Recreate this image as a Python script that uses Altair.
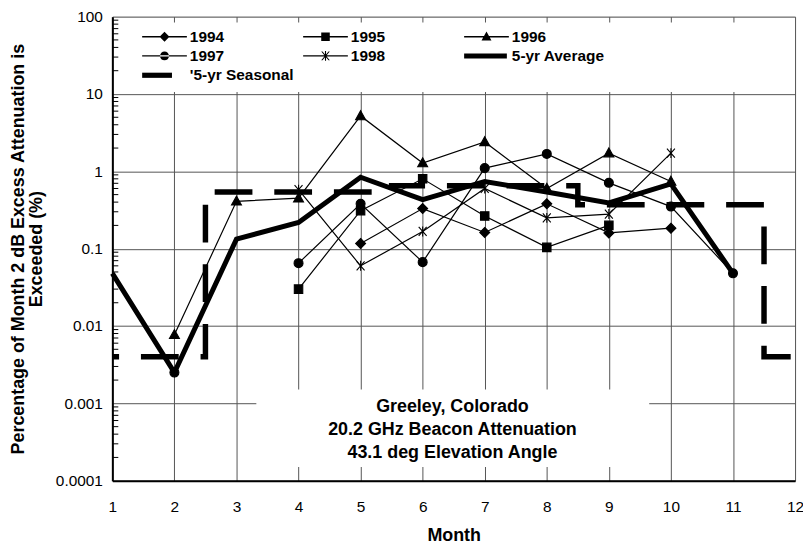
import altair as alt
import pandas as pd

# ---------------- data ----------------
months = [1, 2, 3, 4, 5, 6, 7, 8, 9, 10, 11, 12]
pct_1994 = [None, None, None, None, 0.117, 0.33, 0.162, 0.38, 0.16, 0.184, None, None]
pct_1995 = [None, None, None, 0.03, 0.31, 0.80, 0.265, 0.104, 0.20, None, None, None]
pct_1996 = [None, 0.0077, 0.41, 0.45, 5.2, 1.28, 2.4, 0.60, 1.72, 0.74, None, None]
pct_1997 = [None, 0.0025, None, 0.065, 0.38, 0.067, 1.1, 1.68, 0.71, 0.35, 0.048, None]
pct_1998 = [None, None, None, 0.58, 0.06, 0.167, 0.60, 0.25, 0.28, 1.72, None, None]
pct_avg = [0.048, 0.0025, 0.133, 0.218, 0.84, 0.43, 0.74, 0.54, 0.39, 0.69, 0.048, None]

# seasonal (step) values: winter, spring, summer, fall, winter
season_edges = [0.5, 2.5, 5.5, 8.5, 11.5, 12.5]
season_values = [0.004, 0.54, 0.65, 0.37, 0.004, 0.004]

year_names = ["1994", "1995", "1996", "1997", "1998"]
legend_names = ["1994", "1995", "1996", "1997", "1998", "5-yr Average", "'5-yr Seasonal"]
y_ticks = [0.0001, 0.001, 0.01, 0.1, 1, 10, 100]
annotation_lines = ["Greeley, Colorado", "20.2 GHz Beacon Attenuation", "43.1 deg Elevation Angle"]

# ---------------- tables ----------------
rows = []
for name, vals in zip(year_names, [pct_1994, pct_1995, pct_1996, pct_1997, pct_1998]):
    seg = 0
    prev = None
    for m, v in zip(months, vals):
        if v is None:
            if prev is not None:
                seg += 1
            prev = None
            continue
        rows.append({"series": name, "month": m, "value": v, "seg": f"{name}-{seg}"})
        prev = v
years_df = pd.DataFrame(rows)

avg_df = pd.DataFrame([{"month": m, "value": v} for m, v in zip(months, pct_avg) if v is not None])
season_df = pd.DataFrame({"month": season_edges, "value": season_values})

minor = []
for d in y_ticks[:-1]:
    for k in range(2, 10):
        minor.append({"v": d * k})
minor_df = pd.DataFrame(minor)

boxes_df = pd.DataFrame([
    {"x": 1.04, "x2": 11.96, "y": 10.6, "y2": 84},          # legend backing
    {"x": 3.32, "x2": 9.65, "y": 0.000151, "y2": 0.00151},  # annotation backing
])
note_df = pd.DataFrame([{"month": 6.48, "value": 0.00089}])
legend_df = pd.DataFrame({"series": legend_names})

# ---------------- marker / legend symbol shapes ----------------
xscale = alt.Scale(domain=[1, 12], nice=False, zero=False)
yscale = alt.Scale(type="log", domain=[0.0001, 100], nice=False)

marker_paths = [
    "M0,-1L1,0L0,1L-1,0Z",
    "M-0.85,-0.85H0.85V0.85H-0.85Z",
    "M0,-1.05L1,0.75L-1,0.75Z",
    "M-0.9,0A0.9,0.9 0 1,0 0.9,0A0.9,0.9 0 1,0 -0.9,0Z",
    "M-0.8,-0.9L0.8,0.9M-0.8,0.9L0.8,-0.9M0,-1V1",
]

LEG_SIZE = 256           # symbol area -> 8 px per path unit
S = 8.0


def P(px):
    return f"{px / S:.4g}"


def rect(x0, x1, y0, y1):
    return f"M{P(x0)},{P(y0)}H{P(x1)}V{P(y1)}H{P(x0)}Z"


CX = 14.5                # marker centre (px from symbol centre)
LINE = rect(-8, 37, -0.65, 0.65)
legend_paths = [
    LINE + f"M{P(CX)},{P(-5)}L{P(CX + 5)},0L{P(CX)},{P(5)}L{P(CX - 5)},0Z",
    LINE + rect(CX - 4.3, CX + 4.3, -4.3, 4.3),
    LINE + f"M{P(CX)},{P(-5.2)}L{P(CX + 5)},{P(3.8)}L{P(CX - 5)},{P(3.8)}Z",
    LINE + f"M{P(CX - 4.5)},0A{P(4.5)},{P(4.5)} 0 1,0 {P(CX + 4.5)},0"
           f"A{P(4.5)},{P(4.5)} 0 1,0 {P(CX - 4.5)},0Z",
    LINE + f"M{P(CX - 4.3)},{P(-4.5)}L{P(CX - 3)},{P(-4.5)}L{P(CX + 4.3)},{P(4.5)}L{P(CX + 3)},{P(4.5)}Z"
           f"M{P(CX + 3)},{P(-4.5)}L{P(CX + 4.3)},{P(-4.5)}L{P(CX - 3)},{P(4.5)}L{P(CX - 4.3)},{P(4.5)}Z"
           + rect(CX - 0.55, CX + 0.55, -5, 5),
    rect(-8, 35, -2.5, 2.5),
    rect(-8, 22, -2.6, 2.6),
]

FONT = "Liberation Sans"

xaxis = alt.Axis(values=months, format="d", grid=True, ticks=False, labelPadding=19,
                 labelFontSize=15.5, labelFont=FONT, labelColor="black", title="Month",
                 titleFont=FONT, titleFontSize=18, titleFontWeight="bold", titleColor="black",
                 titlePadding=12, domainColor="black", domainWidth=2, gridColor="#555555",
                 gridWidth=1, labelFlush=False)
yaxis = alt.Axis(values=y_ticks, grid=True, ticks=False, format="~f", labelPadding=10,
                 labelFontSize=15.5, labelFont=FONT, labelColor="black",
                 title=["Percentage of Month 2 dB Excess Attenuation is", "Exceeded (%)"],
                 titleFont=FONT, titleFontSize=18, titleFontWeight="bold", titleColor="black",
                 titlePadding=10, titleLineHeight=18, domainColor="black", domainWidth=2,
                 gridColor="#555555", gridWidth=1, labelFlush=False)

base_x = alt.X("month:Q", scale=xscale, axis=xaxis)
base_y = alt.Y("value:Q", scale=yscale, axis=yaxis)

boxes = alt.Chart(boxes_df).mark_rect(color="white").encode(
    x=alt.X("x:Q", scale=xscale), x2="x2:Q",
    y=alt.Y("y:Q", scale=yscale), y2="y2:Q",
)

minor_ticks = alt.Chart(minor_df).mark_rule(color="black", strokeWidth=1).encode(
    x=alt.value(0), x2=alt.value(6), y=alt.Y("v:Q", scale=yscale),
)

year_lines = alt.Chart(years_df).mark_line(color="black", strokeWidth=1.2).encode(
    x=base_x, y=base_y, detail="seg:N",
)

year_points = alt.Chart(years_df).mark_point(
    filled=True, size=100, color="black", stroke="black", strokeWidth=1.1, opacity=1
).encode(
    x=alt.X("month:Q", scale=xscale), y=alt.Y("value:Q", scale=yscale),
    shape=alt.Shape("series:N", scale=alt.Scale(domain=year_names, range=marker_paths), legend=None),
)

seasonal = alt.Chart(season_df).mark_line(
    color="black", strokeWidth=5.5, strokeDash=[38, 22], interpolate="step-after",
    clip=True, strokeCap="butt",
).encode(x=alt.X("month:Q", scale=xscale), y=alt.Y("value:Q", scale=yscale))

average = alt.Chart(avg_df).mark_line(color="black", strokeWidth=5).encode(
    x=alt.X("month:Q", scale=xscale), y=alt.Y("value:Q", scale=yscale),
)

note = alt.Chart(note_df).mark_text(
    text=annotation_lines, font=FONT, fontSize=18, fontWeight="bold", lineHeight=23,
    align="center", baseline="middle", color="black",
).encode(x=alt.X("month:Q", scale=xscale), y=alt.Y("value:Q", scale=yscale))

legend_layer = alt.Chart(legend_df).transform_filter("false").mark_point(
    filled=True, color="black", size=LEG_SIZE, opacity=1
).encode(
    shape=alt.Shape(
        "series:N",
        scale=alt.Scale(domain=legend_names, range=legend_paths),
        legend=alt.Legend(
            title=None, orient="none", legendX=29, legendY=11, columns=3, direction="horizontal",
            gridAlign="all", columnPadding=6, rowPadding=1.5, padding=0, labelFont=FONT,
            labelFontSize=15.5, labelFontWeight="bold", labelColor="black", labelOffset=31,
            labelLimit=0, symbolSize=LEG_SIZE, symbolFillColor="black", symbolOpacity=1,
        ),
    ),
)

chart = alt.layer(
    boxes, minor_ticks, year_lines, year_points, seasonal, average, note, legend_layer
).resolve_scale(shape="independent").properties(
    width=687, height=467,
    autosize=alt.AutoSizeParams(type="none"),
    padding={"left": 105, "top": 7, "right": 8, "bottom": 64},
).configure_view(stroke="black", strokeWidth=2).configure(background="white")

chart.save("out.html", embed_options={"renderer": "svg", "actions": False})
